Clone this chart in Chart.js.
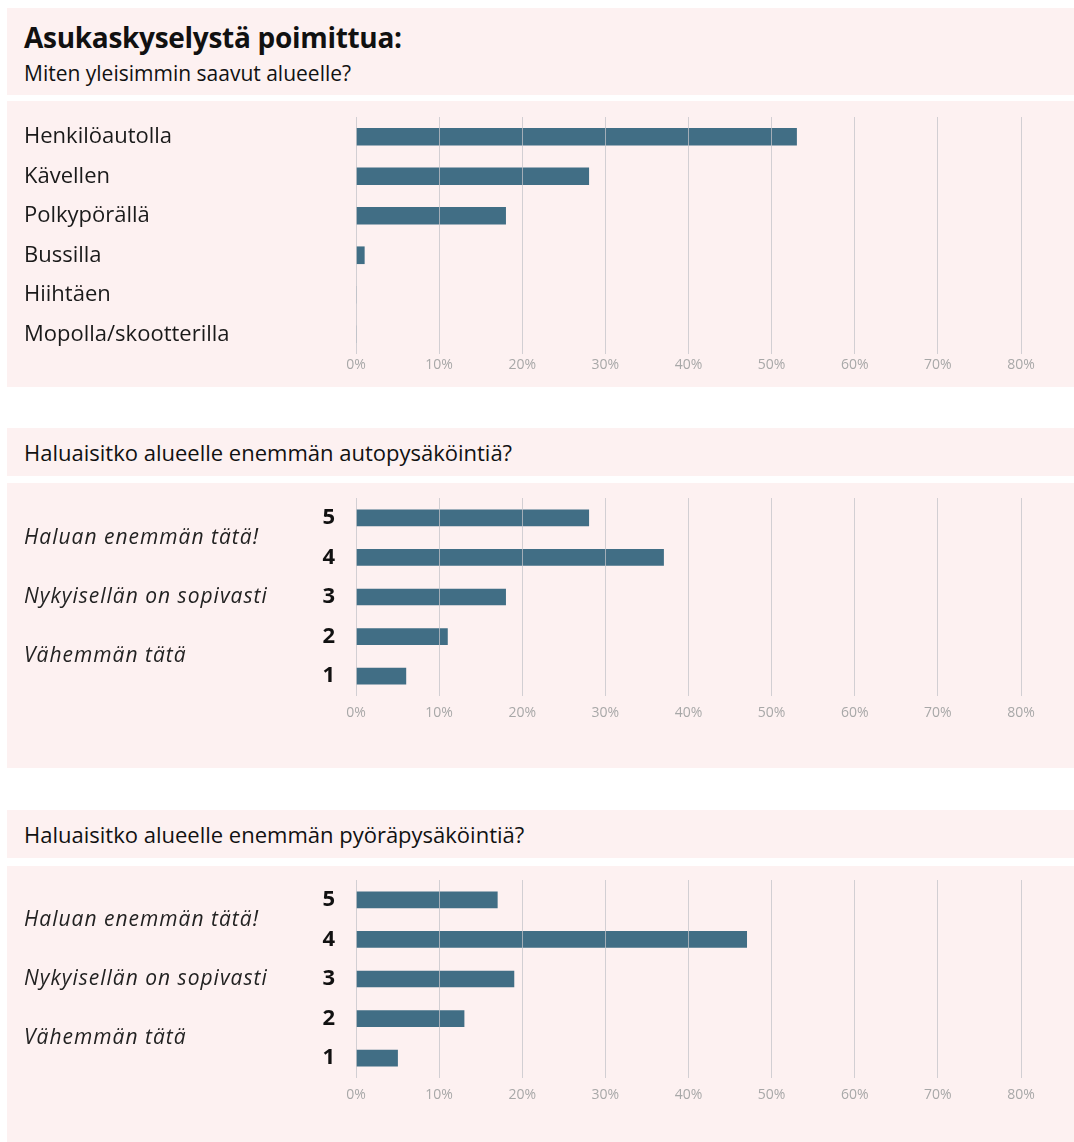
<!DOCTYPE html>
<html lang="fi">

<head>
    <meta charset="UTF-8">
    <script src="https://cdn.jsdelivr.net/npm/chart.js"></script>
    <title>Asukaskysely</title>
    <style>
        body { margin: 0; background: #fff; font-family: "Open Sans", sans-serif; color: #111; }
        .sivu { position: relative; width: 1074px; height: 1142px; overflow: hidden; }
        .paneeli { position: absolute; left: 7px; width: 1067px; background: #fdf1f1; }
        .paneeli canvas { display: block; }
        .otsikko { position: absolute; left: 17px; white-space: nowrap; }
        .iso { top: 11px; font-size: 28px; line-height: 36px; font-weight: bold; letter-spacing: -0.3px; }
        .ala { top: 51px; font-size: 21px; line-height: 28px; }
        .kysymys { top: 9px; font-size: 22px; line-height: 30px; }
    </style>
</head>

<body>
    <div class="sivu">
        <div class="paneeli" style="top:8px;height:87px">
            <div class="otsikko iso">Asukaskyselystä poimittua:</div>
            <div class="otsikko ala">Miten yleisimmin saavut alueelle?</div>
        </div>
        <div class="paneeli" style="top:101px;height:286px">
            <canvas id="kulku" width="1067" height="286"></canvas>
        </div>

        <div class="paneeli" style="top:428px;height:48px">
            <div class="otsikko kysymys">Haluaisitko alueelle enemmän autopysäköintiä?</div>
        </div>
        <div class="paneeli" style="top:483px;height:285px">
            <canvas id="auto" width="1067" height="285"></canvas>
        </div>

        <div class="paneeli" style="top:810px;height:48px">
            <div class="otsikko kysymys">Haluaisitko alueelle enemmän pyöräpysäköintiä?</div>
        </div>
        <div class="paneeli" style="top:866px;height:276px">
            <canvas id="pyora" width="1067" height="276"></canvas>
        </div>
    </div>
</body>

</html>

<script>
    // kyselyn tulokset (% vastaajista)
    var kulkutavat = ['Henkilöautolla', 'Kävellen', 'Polkypörällä', 'Bussilla', 'Hiihtäen', 'Mopolla/skootterilla']
    var kulkuArvot = [53, 28, 18, 1, 0, 0]

    var asteikko = ['5', '4', '3', '2', '1']
    var autoArvot = [28, 37, 18, 11, 6]
    var pyoraArvot = [17, 47, 19, 13, 5]
    var asteikonSelitteet = ['Haluan enemmän tätä!', 'Nykyisellän on sopivasti', 'Vähemmän tätä']

    var xMax = 80
    var xAskel = 10

    var palkinVari = '#416e85'
    var fontti = '"Open Sans", sans-serif'

    // piirtää kursiiviset selitteet asteikon viereen
    const selitePlugin = {
        id: 'selitteet',
        afterDraw(chart, args, opts) {
            if (!opts.tekstit) return
            const y = chart.scales.y
            const ctx = chart.ctx
            ctx.save()
            ctx.font = 'italic 21px ' + fontti
            ctx.letterSpacing = '1px'
            ctx.fillStyle = '#222'
            ctx.textAlign = 'left'
            ctx.textBaseline = 'middle'
            // selite osuu kohtien 5/4, 3 ja 2/1 kohdalle
            const kohdat = [0.5, 2, 3.5]
            for (let i = 0; i < opts.tekstit.length; i++) {
                ctx.fillText(opts.tekstit[i], y.left, y.getPixelForValue(kohdat[i]))
            }
            ctx.restore()
        }
    }

    function teeKaavio(id, labels, arvot, asetus) {
        return new Chart(document.getElementById(id), {
            type: 'bar',
            data: {
                labels: labels,
                datasets: [{
                    data: arvot,
                    backgroundColor: palkinVari,
                    barThickness: asetus.paksuus
                }]
            },
            options: {
                indexAxis: 'y',
                responsive: false,
                animation: false,
                layout: { padding: { left: 17, right: 53, top: asetus.ylä, bottom: 0 } },
                plugins: {
                    legend: { display: false },
                    tooltip: { enabled: false },
                    selitteet: { tekstit: asetus.selitteet }
                },
                scales: {
                    x: {
                        min: 0,
                        max: xMax,
                        ticks: {
                            stepSize: xAskel,
                            callback: v => v + '%',
                            color: '#a8a8a8',
                            font: { family: fontti, size: 14 },
                            padding: asetus.xVäli
                        },
                        grid: { color: 'rgba(195,195,200,0.75)', drawTicks: false, z: 1 },
                        border: { display: false },
                        afterFit: s => { s.height = asetus.xKorkeus }
                    },
                    y: {
                        ticks: asetus.yTicks,
                        grid: { display: false },
                        border: { display: false },
                        afterFit: s => {
                            s.width = 332
                            s.paddingTop = 0
                            s.paddingBottom = 0
                        }
                    }
                }
            },
            plugins: [selitePlugin]
        })
    }

    teeKaavio('kulku', kulkutavat, kulkuArvot, {
        paksuus: 17, ylä: 16, xKorkeus: 33, xVäli: 3,
        yTicks: { crossAlign: 'far', color: '#1a1a1a', font: { family: fontti, size: 22 } }
    })

    var numeroTicks = { padding: 13, color: '#111', font: { family: fontti, size: 22, weight: 'bold' } }

    teeKaavio('auto', asteikko, autoArvot, {
        paksuus: 16, ylä: 15, xKorkeus: 72, xVäli: 9, yTicks: numeroTicks, selitteet: asteikonSelitteet
    })

    teeKaavio('pyora', asteikko, pyoraArvot, {
        paksuus: 16, ylä: 14, xKorkeus: 64, xVäli: 9, yTicks: numeroTicks, selitteet: asteikonSelitteet
    })
</script>
